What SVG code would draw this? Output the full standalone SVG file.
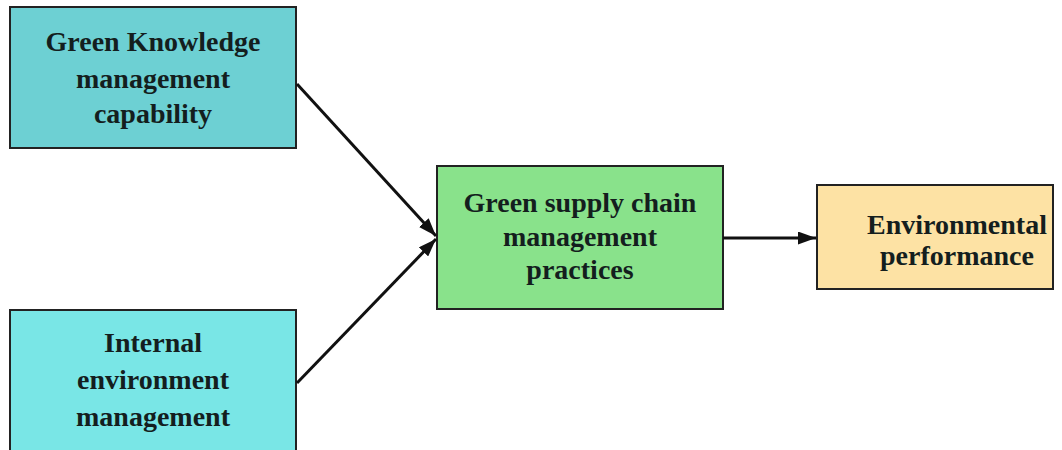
<svg xmlns="http://www.w3.org/2000/svg" width="1062" height="450" viewBox="0 0 1062 450">
  <defs>
    <marker id="arrow" markerWidth="18" markerHeight="13" refX="18" refY="6.5" orient="auto" markerUnits="userSpaceOnUse" viewBox="0 0 18 13">
      <path d="M0,0 L18,6.5 L0,13 z" fill="#111"/>
    </marker>
    <style>
      .box { stroke: #222; stroke-width: 2; }
      .label { font-family: "Liberation Serif", "Times New Roman", serif; font-weight: bold; font-size: 28px; fill: #141e1e; text-anchor: middle; }
      .conn { stroke: #111; stroke-width: 3; fill: none; marker-end: url(#arrow); }
    </style>
  </defs>
  <rect width="1062" height="450" fill="#ffffff"/>

  <g id="green-knowledge">
    <rect class="box" x="10" y="7" width="286" height="141" fill="#6dd0d3"/>
    <text class="label" x="153" y="51">Green Knowledge</text>
    <text class="label" x="153" y="88">management</text>
    <text class="label" x="153" y="123">capability</text>
  </g>

  <g id="internal-environment">
    <rect class="box" x="10" y="310" width="286" height="150" fill="#79e6e6"/>
    <text class="label" x="153" y="352">Internal</text>
    <text class="label" x="153" y="389">environment</text>
    <text class="label" x="153" y="426">management</text>
  </g>

  <g id="gscm-practices">
    <rect class="box" x="437" y="166" width="286" height="143" fill="#89e28b"/>
    <text class="label" x="580" y="212">Green supply chain</text>
    <text class="label" x="580" y="246">management</text>
    <text class="label" x="580" y="279">practices</text>
  </g>

  <g id="environmental-performance">
    <rect class="box" x="817" y="185" width="236" height="104" fill="#fde2a4"/>
    <text class="label" x="957" y="234">Environmental</text>
    <text class="label" x="957" y="265">performance</text>
  </g>

  <g id="connectors">
    <line class="conn" x1="297" y1="84" x2="436" y2="236"/>
    <line class="conn" x1="297" y1="383" x2="436" y2="239"/>
    <line class="conn" x1="723" y1="238" x2="816" y2="238"/>
  </g>
</svg>
